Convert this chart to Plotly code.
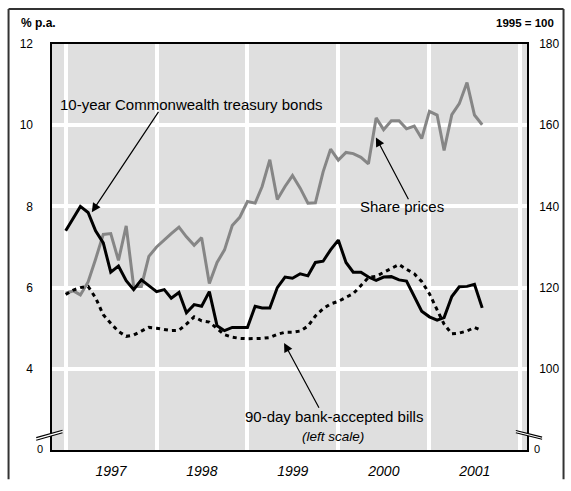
import pandas as pd
import plotly.graph_objects as go

# monthly observations, Jan 1997 onwards
months = pd.date_range("1997-01-01", periods=56, freq="MS")

bond_yield = [7.40, 7.70, 8.00, 7.85, 7.40, 7.10, 6.38, 6.53, 6.17, 5.95, 6.19, 6.05,
              5.90, 5.95, 5.74, 5.88, 5.38, 5.58, 5.54, 5.90, 5.06, 4.94, 5.02, 5.02,
              5.02, 5.54, 5.50, 5.50, 6.00, 6.26, 6.23, 6.34, 6.29, 6.62, 6.65, 6.93,
              7.17, 6.62, 6.38, 6.38, 6.26, 6.18, 6.26, 6.27, 6.19, 6.16, 5.78, 5.42,
              5.28, 5.20, 5.26, 5.78, 6.02, 6.03, 6.08, 5.50]

bill_rate = [5.83, 5.94, 6.00, 6.03, 5.75, 5.33, 5.12, 4.92, 4.80, 4.83, 4.93, 5.02,
             5.00, 4.97, 4.94, 4.95, 5.10, 5.28, 5.18, 5.15, 5.00, 4.84, 4.78, 4.75,
             4.74, 4.74, 4.75, 4.77, 4.85, 4.90, 4.90, 4.93, 5.05, 5.30, 5.48, 5.60,
             5.66, 5.76, 5.85, 6.05, 6.25, 6.28, 6.37, 6.47, 6.57, 6.45, 6.34, 6.15,
             5.85, 5.45, 5.10, 4.86, 4.88, 4.93, 5.02, 4.94]

share_prices = [118.6, 119.2, 118.2, 121.4, 127.0, 133.1, 133.3, 126.7, 135.2, 120.3, 120.3, 127.7,
                130.0, 131.8, 133.3, 134.9, 132.5, 130.4, 132.3, 121.0, 126.2, 129.3, 135.3, 137.3,
                141.2, 140.8, 144.9, 151.5, 141.7, 144.9, 147.6, 144.5, 140.8, 140.9, 148.5, 154.1,
                151.4, 153.3, 153.0, 152.1, 150.5, 161.8, 158.9, 161.1, 161.1, 159.1, 159.8, 156.7,
                163.4, 162.5, 153.8, 162.6, 165.3, 170.5, 162.5, 160.1]

years = ["1997", "1998", "1999", "2000", "2001"]
left_ticks = [4, 6, 8, 10, 12]
right_ticks = [100, 120, 140, 160, 180]

FONT = "Arial, Liberation Sans, sans-serif"
W, H = 571, 491
L, R, T, B = 52, 38, 44, 30
PW, PH = W - L - R, H - T - B


def px(x):
    return (x - L) / PW


def py(y):
    return (H - B - y) / PH


fig = go.Figure()

# share prices on the base (right) axis so the rate lines sit on top
fig.add_trace(go.Scatter(x=months, y=share_prices, mode="lines", yaxis="y",
                         line=dict(color="#868686", width=3), showlegend=False))
fig.add_trace(go.Scatter(x=months, y=bill_rate, mode="lines", yaxis="y2",
                         line=dict(color="black", width=3, dash="4px,4px"), showlegend=False))
fig.add_trace(go.Scatter(x=months, y=bond_yield, mode="lines", yaxis="y2",
                         line=dict(color="black", width=3), showlegend=False))

annotations = []
shapes = []


def text(x, y, s, size=15, xanchor="center", **kw):
    annotations.append(dict(x=px(x), y=py(y), xref="paper", yref="paper", text=s,
                            showarrow=False, xanchor=xanchor, yanchor="middle",
                            font=dict(family=FONT, size=size, color="black", **kw)))


def arrow(tip, tail):
    annotations.append(dict(x=px(tip[0]), y=py(tip[1]), xref="paper", yref="paper",
                            ax=tail[0] - tip[0], ay=tail[1] - tip[1], text="",
                            showarrow=True, arrowhead=2, arrowsize=1.5,
                            arrowwidth=1.2, arrowcolor="black"))


text(58, 106, "10-year Commonwealth treasury bonds", xanchor="left")
arrow((92.3, 216.7), (160, 115))
text(406, 211, "Share prices")
arrow((380, 140), (413.3, 203.3))
text(337.5, 427, "90-day bank-accepted bills")
text(336.5, 447, "(left scale)", size=13.5, style="italic")
arrow((287, 351), (322.7, 417.3))

text(19, 22.5, "<b>% p.a.</b>", size=12, xanchor="left")
text(562, 22.8, "<b>1995 = 100</b>", size=11.5, xanchor="right")
text(40, 460, "0", size=11)
text(543.5, 460, "0", size=11)

# axis breaks
for pts in ([(36, 448.3), (62.7, 440.7), (62.7, 443.3), (36, 451)],
            [(521.7, 441), (548.3, 447.7), (548.3, 450), (521.7, 443.3)]):
    path = "M " + " L ".join(f"{px(a)},{py(b)}" for a, b in pts) + " Z"
    shapes.append(dict(type="path", path=path, xref="paper", yref="paper",
                       fillcolor="white", line=dict(width=0)))
    for a, b in (pts[:2], pts[2:][::-1]):
        shapes.append(dict(type="line", xref="paper", yref="paper",
                           x0=px(a[0]), y0=py(a[1]), x1=px(b[0]), y1=py(b[1]),
                           line=dict(color="black", width=1.2)))

# outer frame
for x0, y0, x1, y1 in [(8, 8, 570, 8), (8, 8, 8, 491), (570, 8, 570, 491)]:
    shapes.append(dict(type="line", xref="paper", yref="paper",
                       x0=px(x0), y0=py(y0), x1=px(x1), y1=py(y1),
                       line=dict(color="#333333", width=2)))

fig.update_layout(
    width=W, height=H, autosize=False,
    margin=dict(l=L, r=R, t=T, b=B, pad=0),
    paper_bgcolor="white", plot_bgcolor="#dfdfdf",
    font=dict(family=FONT, size=12, color="black"),
    xaxis=dict(
        type="date", range=["1996-11-07", "2002-01-28"],
        tickvals=[f"{y}-07-02" for y in years], ticktext=years,
        tickfont=dict(size=14, style="italic"), ticks="", showgrid=False,
        ticklabelstandoff=7,
        minor=dict(tick0="1997-01-01", dtick="M12", showgrid=True,
                   gridcolor="white", gridwidth=3.5, ticks=""),
        showline=True, linecolor="black", linewidth=1.5, mirror=True, zeroline=False,
    ),
    yaxis=dict(
        side="right", range=[80, 180], tickvals=right_ticks,
        ticks="", showgrid=False, ticklabelstandoff=8,
        minor=dict(tickvals=right_ticks[:-1], showgrid=True, gridcolor="white",
                   gridwidth=3.5, ticks=""),
        showline=True, linecolor="black", linewidth=1.5, mirror=True, zeroline=False,
    ),
    yaxis2=dict(
        side="left", overlaying="y", range=[2, 12], tickvals=left_ticks,
        ticks="", showgrid=False, ticklabelstandoff=18, zeroline=False,
        showline=False,
    ),
    annotations=annotations,
    shapes=shapes,
)

fig.write_html("out.html", config={"displayModeBar": False},
               post_script="document.body.style.margin='0';")
